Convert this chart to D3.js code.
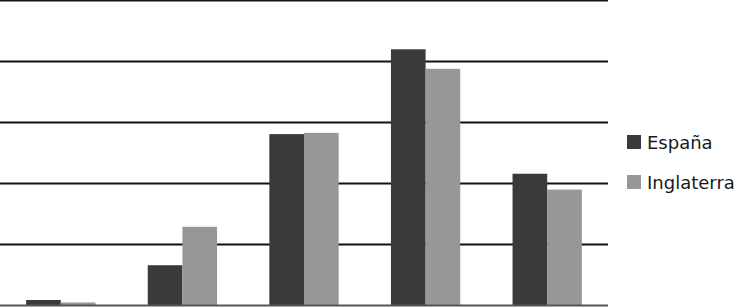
<!DOCTYPE html>
<html>
<head>
<meta charset="utf-8">
<script src="https://cdn.jsdelivr.net/npm/d3@7"></script>
<style>
  body { margin: 0; background: #fff; }
  svg { display: block; }
</style>
</head>
<body>
<div id="chart"></div>
<script>
const width = 736, height = 308;
const plot = {left: 0, right: 608, top: 0.5, bottom: 305.5};

// data (no axis labels are shown, so units are relative)
const categories = ["1", "2", "3", "4", "5"];
const series = ["España", "Inglaterra"];
const espana = [0.9, 6.6, 28.1, 42.0, 21.6];
const inglaterra = [0.5, 12.9, 28.3, 38.8, 19.0];
const gridTicks = [10, 20, 30, 40, 50];

const colors = {"España": "#3a3a3a", "Inglaterra": "#979797"};

let svg = d3.select("#chart")
    .append("svg")
    .attr("width", width)
    .attr("height", height);

let x0 = d3.scaleBand()
    .domain(categories)
    .range([plot.left, plot.right])
    .paddingInner(0.43)
    .paddingOuter(0.215);

let x1 = d3.scaleBand()
    .domain(series)
    .range([0, x0.bandwidth()]);

let y = d3.scaleLinear()
    .domain([0, 50])
    .range([plot.bottom, plot.top]);

// horizontal grid lines
svg.append("g")
    .selectAll("line")
    .data(gridTicks)
    .enter().append("line")
    .attr("x1", plot.left)
    .attr("x2", plot.right)
    .attr("y1", d => y(d))
    .attr("y2", d => y(d))
    .style("stroke", "#111")
    .style("stroke-width", 2);

let rows = categories.map((c, i) => ({cat: c, values: [
    {key: "España", value: espana[i]},
    {key: "Inglaterra", value: inglaterra[i]}
]}));

svg.append("g")
    .selectAll("g")
    .data(rows)
    .enter().append("g")
    .attr("transform", d => `translate(${x0(d.cat)},0)`)
    .selectAll("rect")
    .data(d => d.values)
    .enter().append("rect")
    .attr("x", d => x1(d.key))
    .attr("y", d => y(d.value))
    .attr("width", x1.bandwidth())
    .attr("height", d => y(0) - y(d.value))
    .style("fill", d => colors[d.key]);

// baseline
svg.append("line")
    .attr("x1", plot.left)
    .attr("x2", plot.right)
    .attr("y1", y(0))
    .attr("y2", y(0))
    .style("stroke", "#555")
    .style("stroke-width", 2);

// legend
let legend = svg.append("g")
    .selectAll("g")
    .data(series)
    .enter().append("g")
    .attr("transform", (d, i) => `translate(627, ${135 + i * 40})`);

legend.append("rect")
    .attr("width", 14)
    .attr("height", 14)
    .style("fill", d => colors[d]);

legend.append("text")
    .attr("x", 20)
    .attr("y", 14)
    .style("font-family", "DejaVu Sans, sans-serif")
    .style("font-size", "18px")
    .style("fill", "#1a1a1a")
    .text(d => d);
</script>
</body>
</html>
